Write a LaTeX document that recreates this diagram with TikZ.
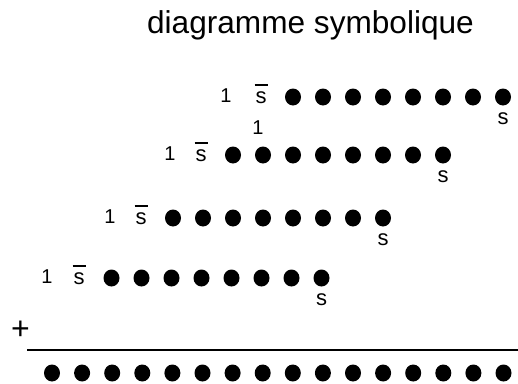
\documentclass[tikz,border=0pt]{standalone}
\usepackage{fontspec}
\setmainfont{Liberation Sans}
\usetikzlibrary{shapes.geometric}
\begin{document}
\begin{tikzpicture}[x=1pt,y=-1pt,
  dot/.style={fill=black,draw=none,ellipse,minimum width=16pt,minimum height=17pt,inner sep=0pt},
  onelbl/.style={inner sep=0pt,font=\fontsize{20}{20}\selectfont},
  slbl/.style={inner sep=0pt,font=\fontsize{22}{22}\selectfont},
  bar/.style={line width=1.5pt},
  rule/.style={line width=2.6pt}]
\useasboundingbox (0,0) rectangle (518,383);
\node[inner sep=0pt,anchor=base,font=\fontsize{31.6}{31.6}\selectfont] (title) at (310.5,33) {diagramme symbolique};
% rows: name / y / x of "1" / x of s-bar / x of first dot
\foreach \r/\y/\xo/\xs/\xd in {a/97/226/261/293, b/155/170/201/233, c/218/110/141/173, d/278/47/79/111.5}{
  \node[onelbl] (one\r) at (\xo,\y-1) {1};
  \node[slbl] (sbar\r) at (\xs,\y+1) {s};
  \coordinate (bl\r) at ([xshift=-6.5pt,yshift=13pt]sbar\r.center);
  \coordinate (br\r) at ([xshift=6.5pt,yshift=13pt]sbar\r.center);
  \draw[bar] (bl\r) -- (br\r);
  \foreach \k in {0,...,7}{
    \node[dot] (dot\r\k) at (\xd+30*\k,\y) {};
  }
  \node[slbl,anchor=center] (s\r) at ([yshift=-22pt]dot\r7.center) {s};
}
\node[onelbl] (oneextra) at (258,128) {1};
\node[inner sep=0pt,font=\fontsize{32}{32}\selectfont] (plus) at (20.5,330) {+};
\coordinate (ruleL) at (27,350);
\coordinate (ruleR) at (518,350);
\draw[rule] (ruleL) -- (ruleR);
\foreach \k in {0,...,15}{
  \node[dot] (res\k) at (52+30.1*\k,373) {};
}
\end{tikzpicture}
\end{document}
